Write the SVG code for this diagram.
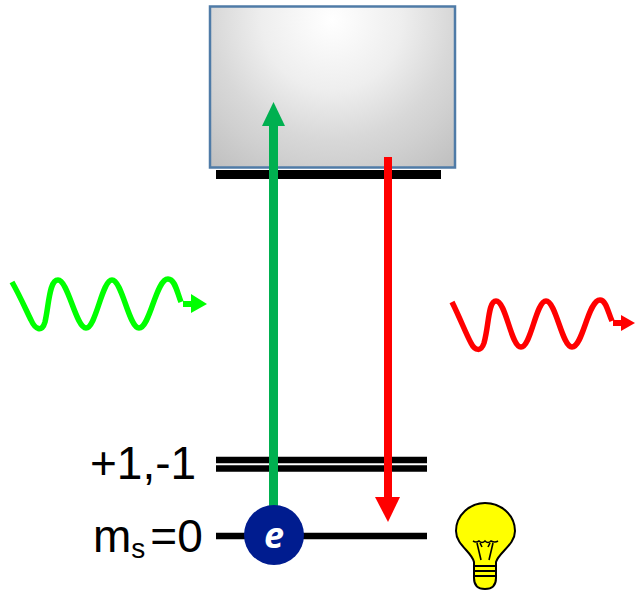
<svg xmlns="http://www.w3.org/2000/svg" width="635" height="591" viewBox="0 0 635 591">
<style>
.lbl{font-family:"Liberation Sans",Arial,sans-serif;font-size:46px;fill:#000}
.wave{fill:none;stroke-width:5.500;stroke-linecap:butt;stroke-linejoin:round}
.lvl{stroke:#000;stroke-width:6.500;fill:none}
.bulbline{stroke:#000;fill:none;stroke-width:1.600}
</style>
<defs>
<radialGradient id="box" gradientUnits="userSpaceOnUse" cx="332" cy="20" r="190">
<stop offset="0" stop-color="#fff"/><stop offset=".37" stop-color="#eee"/><stop offset=".63" stop-color="#d8d8d8"/><stop offset=".76" stop-color="#d0d0d0"/><stop offset="1" stop-color="#bfbfbf"/>
</radialGradient>
</defs>
<g id="upper-level">
<rect x="216" y="170" width="225" height="9" fill="#000"/>
<rect x="210" y="6.500" width="245" height="161" fill="url(#box)" stroke="#4f7ba7" stroke-width="2.500"/>
</g>
<g id="level-plus-minus">
<path class="lvl" d="M216 460H427M216 468.500H427"/>
<text class="lbl" x="90" y="479">+1,-1</text>
</g>
<g id="level-zero">
<path class="lvl" d="M216 536H427"/>
<text class="lbl" x="93" y="552">m<tspan font-size="28" dy="6">s</tspan><tspan dx="5" dy="-6">=0</tspan></text>
</g>
<g id="connectors">
<path d="M273.500 510V125" stroke="#00b050" stroke-width="9" fill="none"/>
<path d="M273.500 102L285 126H262Z" fill="#00b050"/>
<path d="M388 157V498" stroke="#f00" stroke-width="8" fill="none"/>
<path d="M388 522L375 497H400Z" fill="#f00"/>
</g>
<g id="electron">
<circle cx="274" cy="535" r="30" fill="#001c8f"/>
<text x="274" y="548" text-anchor="middle" font-family="'Open Sans','DejaVu Sans',sans-serif" font-weight="700" font-style="italic" font-size="36" fill="#fff">e</text>
</g>
<g id="green-wave">
<path class="wave" stroke="#0f0" d="M12 282C20 296 26 310 31 320C35 329 42 333 45 322C49 305 49 280 58 280C68 280 76 328 86 328C96 328 102 280 112 280C122 280 129 328 139 328C150 328 156 279 168 279C175 279 177 292 181 302"/>
<path d="M183 301H191V294L207 304L191 313V307H183Z" fill="#0f0"/>
</g>
<g id="red-wave">
<path class="wave" stroke="#f00" d="M452 302C460 318 466 334 471 343C475 351 481 352 484 343C489 326 488 301 496 301C506 301 511 347 521 347C531 347 536 301 546 301C556 301 562 347 572 347C583 347 588 300 600 300C606 300 608 312 612 321"/>
<path d="M613 320H621V315L635 323L621 331V326H613Z" fill="#f00"/>
</g>
<g id="bulb">
<path d="M474 562C472 552 456 545 456 531C456 515 470 503 485 503C501 503 515 515 515 531C515 545 499 552 496 562V578Q496 589 485 589Q474 589 474 578Z" fill="#ff0" stroke="#000" stroke-width="2"/>
<path class="bulbline" d="M473 541Q476 543 479 541Q482 544 485 541Q488 544 491 541Q495 543 498 541M477 543L481 560M493 543L489 560M482 547L480 543M488 547L490 543"/>
<path d="M474 566H496M474 571H496M474 576H496" stroke="#000" stroke-width="2" fill="none"/>
</g>
</svg>
